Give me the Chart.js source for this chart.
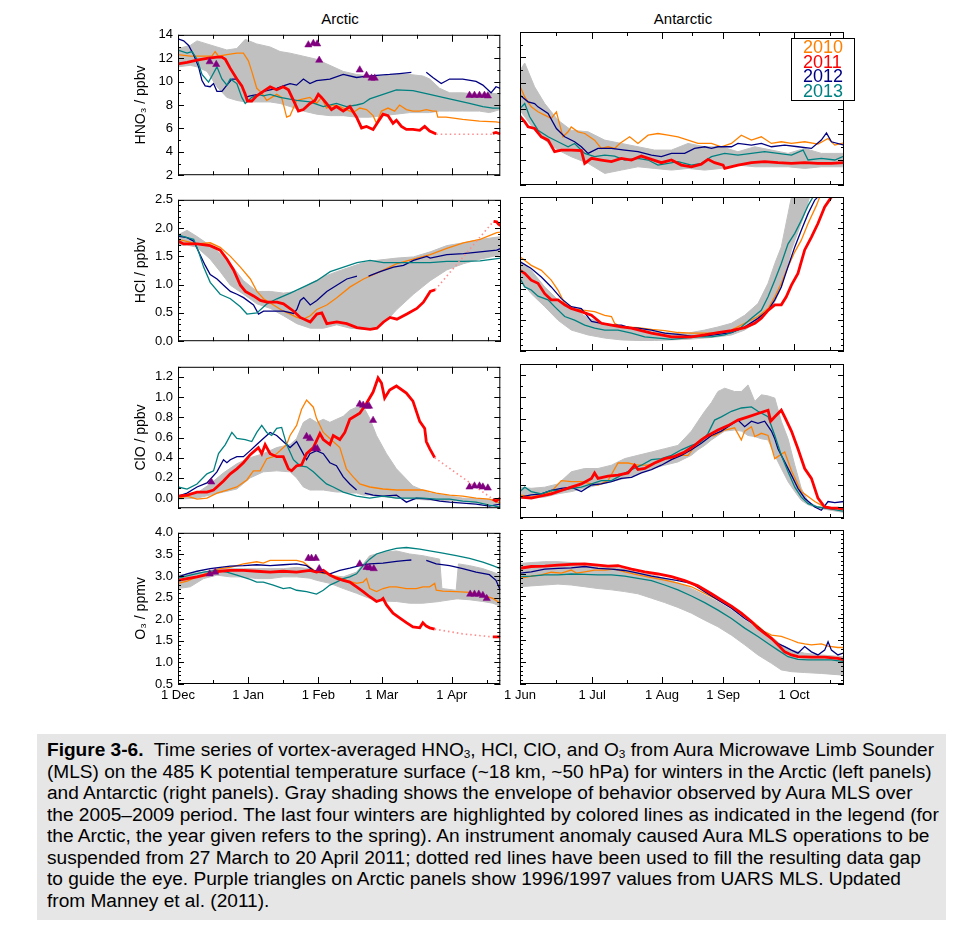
<!DOCTYPE html>
<html>
<head>
<meta charset="utf-8">
<title>Figure 3-6</title>
<script src="https://cdn.jsdelivr.net/npm/chart.js@4.4.1/dist/chart.umd.min.js"></script>
<style>
  body { margin: 0; background: #fff; width: 960px; height: 931px; position: relative; overflow: hidden;
         font-family: 'Liberation Sans', Arial, Helvetica, sans-serif; color: #000; }
  .panel { position: absolute; }
  .coltitle { position: absolute; top: 10px; font-size: 15px; line-height: 18px; transform: translateX(-50%); white-space: nowrap; }
  #legend { position: absolute; left: 791px; top: 38px; width: 64px; height: 63px; border: 1px solid #000; background: #fff;
            font-size: 18px; line-height: 14.5px; padding: 1px 0 0 11px; box-sizing: border-box; }
  #caption { position: absolute; left: 37px; top: 734px; width: 909px; height: 186px; background: #e6e6e6; }
  #capInner { position: absolute; left: 10px; top: 6px; transform-origin: 0 0;
              font-family: 'Liberation Sans', Arial, Helvetica, sans-serif;
              font-size: 18px; line-height: 21.5px; }
  .ln { white-space: nowrap; width: max-content; }
  sub { font-size: 0.62em; vertical-align: -0.2em; line-height: 0; }
</style>
</head>
<body>

<div class="coltitle" style="left:340px">Arctic</div>
<div class="coltitle" style="left:683px">Antarctic</div>

<canvas id="c1" class="panel"></canvas>
<canvas id="c2" class="panel"></canvas>
<canvas id="c3" class="panel"></canvas>
<canvas id="c4" class="panel"></canvas>
<canvas id="c5" class="panel"></canvas>
<canvas id="c6" class="panel"></canvas>
<canvas id="c7" class="panel"></canvas>
<canvas id="c8" class="panel"></canvas>

<div id="legend">
  <div style="color:#ff8000">2010</div>
  <div style="color:#ff0000">2011</div>
  <div style="color:#000080">2012</div>
  <div style="color:#008080">2013</div>
</div>

<div id="caption"><div id="capInner">
  <div class="ln"><b>Figure 3-6.</b>&nbsp; Time series of vortex-averaged HNO<sub>3</sub>, HCl, ClO, and O<sub>3</sub> from Aura Microwave Limb Sounder</div>
  <div class="ln">(MLS) on the 485 K potential temperature surface (~18 km, ~50 hPa) for winters in the Arctic (left panels)</div>
  <div class="ln">and Antarctic (right panels). Gray shading shows the envelope of behavior observed by Aura MLS over</div>
  <div class="ln">the 2005–2009 period. The last four winters are highlighted by colored lines as indicated in the legend (for</div>
  <div class="ln">the Arctic, the year given refers to the spring). An instrument anomaly caused Aura MLS operations to be</div>
  <div class="ln">suspended from 27 March to 20 April 2011; dotted red lines have been used to fill the resulting data gap</div>
  <div class="ln">to guide the eye. Purple triangles on Arctic panels show 1996/1997 values from UARS MLS. Updated</div>
  <div class="ln">from Manney et al. (2011).</div>
</div></div>

<script>
// x = days since 1 Dec (Arctic) or since 1 Jun (Antarctic), y = mixing ratio

// ---- Arctic HNO3 (ppbv) ----
const arcHNO3_envX = [0, 5.4, 8.4, 12.8, 17.2, 21.6, 26.0, 29.7, 34.8, 40.7, 45.1, 49.5, 55.4, 61.2, 67.1, 73.0, 78.9, 84.7, 90.6, 96.5, 102.3, 108.2, 111.2, 115.6, 120.0, 125.8, 133.2, 137.6, 142.4];
const arcHNO3_envHi = [12.83, 13.09, 13.48, 13.22, 12.96, 12.70, 12.83, 13.61, 13.22, 12.96, 12.57, 12.43, 12.17, 11.91, 11.39, 10.87, 10.61, 10.48, 10.48, 10.61, 10.61, 10.48, 10.22, 9.43, 9.04, 9.04, 8.91, 9.04, 8.91];
const arcHNO3_envLo = [11.26, 11.39, 11.26, 10.87, 9.56, 8.65, 8.39, 8.26, 8.26, 8.26, 8.13, 7.87, 7.48, 7.22, 7.09, 7.09, 6.96, 6.96, 7.09, 7.22, 7.35, 7.35, 7.35, 7.48, 7.48, 7.48, 7.48, 7.35, 7.61];
const arcHNO3_2010 = [[0,12.30],[5.4,12.17],[11.3,12.17],[15.0,12.17],[16.4,12.57],[17.9,12.17],[21.6,12.30],[26.0,12.43],[28.9,12.43],[31.1,11.78],[32.6,10.87],[34.8,9.43],[37.0,9.04],[39.2,8.39],[41.4,8.65],[43.6,8.91],[45.8,8.65],[48.0,6.96],[49.5,7.09],[52.4,8.39],[55.4,8.52],[58.3,8.65],[61.2,8.13],[63.4,8.65],[65.6,7.74],[68.6,8.00],[71.5,7.87],[74.4,7.61],[77.4,7.35],[80.3,7.74],[83.3,7.61],[86.2,7.09],[87.7,6.43],[89.9,7.48],[92.8,7.74],[95.7,7.48],[97.9,8.00],[100.9,7.61],[103.8,7.48],[106.8,7.48],[109.7,7.61],[112.6,7.48],[114.1,7.48],[114.8,6.96],[118.5,6.96],[125.8,6.77],[133.2,6.62],[140.5,6.56],[142.4,6.49]];
const arcHNO3_2011a = [[0,11.52],[4.0,11.65],[8.4,11.83],[12.8,11.99],[17.2,12.10],[19.4,12.10],[20.9,11.91],[23.1,11.13],[26.0,10.22],[28.2,9.64],[29.7,8.91],[30.7,8.34],[32.6,8.34],[34.8,8.78],[37.7,9.17],[40.7,9.56],[43.6,9.30],[46.5,9.56],[48.8,9.30],[51.0,8.39],[53.2,7.48],[55.4,7.61],[58.3,8.13],[60.5,8.39],[62.0,8.91],[63.4,8.65],[65.6,8.13],[67.8,7.61],[70.0,7.87],[73.0,7.48],[75.9,7.87],[78.9,6.96],[81.1,6.04],[83.3,6.17],[86.2,5.91],[88.4,6.56],[90.6,7.22],[92.8,7.09],[95.0,6.43],[96.5,6.70],[98.7,6.17],[100.9,5.91],[103.8,5.91],[106.8,5.83],[109.0,6.17],[111.2,5.78],[114.1,5.52]];
const arcHNO3_2011b = [[139.1,5.57],[140.5,5.65],[142.4,5.52]];
const arcHNO3_gap2011 = [[114.1,5.50],[139.1,5.50]];
const arcHNO3_2012a = [[0,13.66],[2.5,13.48],[4.7,13.09],[6.9,12.30],[9.1,11.26],[10.6,10.09],[12.0,9.64],[14.2,9.56],[15.7,9.83],[17.2,9.17],[19.4,9.17],[21.6,9.70],[23.8,10.22],[26.0,10.22],[27.5,9.83]];
const arcHNO3_2012b = [[29.7,8.65],[31.9,8.78],[35.5,8.91],[37.7,9.17],[40.7,9.30],[43.6,9.43],[46.5,9.64],[49.5,9.83],[52.4,9.70],[55.4,10.22],[58.3,9.83],[61.2,10.09],[67.1,10.22],[73.0,10.61],[78.9,10.35],[81.8,10.43],[87.7,10.53],[93.5,10.61],[97.9,10.69],[103.1,10.79]];
const arcHNO3_2012c = [[109.7,10.79],[112.6,10.35],[116.3,9.83],[120.0,10.22],[125.8,10.22],[131.7,10.01],[134.7,9.70],[138.3,9.04],[140.5,9.56],[142.4,9.43]];
const arcHNO3_2013 = [[0,12.70],[4.0,12.43],[6.2,12.57],[8.4,11.91],[10.6,10.61],[13.5,9.96],[15.0,10.48],[17.2,11.26],[19.4,10.22],[21.6,9.70],[23.1,10.22],[26.0,9.83],[28.2,8.65],[29.7,8.13],[32.6,8.65],[35.5,8.91],[37.7,8.78],[40.7,8.91],[45.1,8.65],[52.4,8.39],[58.3,8.26],[64.2,7.87],[70.0,8.13],[74.4,7.87],[78.9,8.00],[81.8,8.13],[84.7,8.52],[90.6,8.91],[96.5,9.30],[103.8,9.23],[111.2,8.91],[117.0,8.65],[122.9,8.39],[128.8,8.13],[134.7,7.87],[139.1,7.74],[142.4,7.74]];
const arcHNO3_uars = [[14.0,11.70],[16.9,11.47],[57.6,13.14],[59.8,13.27],[61.5,13.22],[62.4,11.83],[80.3,11.00],[83.3,10.53],[85.5,10.30],[86.9,10.30],[128.8,8.83],[131.0,8.83],[133.2,8.83],[135.4,8.83],[136.9,8.78]];

// ---- Antarctic HNO3 (ppbv) ----
const antHNO3_envX = [0, 2.1, 6.5, 11.0, 16.9, 22.8, 30.3, 37.7, 45.1, 52.5, 59.9, 67.4, 74.8, 82.2, 89.6, 97.0, 104.5, 111.9, 119.3, 126.7, 134.1, 144.2];
const antHNO3_envHi = [11.00, 11.57, 9.70, 8.39, 7.09, 6.30, 6.17, 5.52, 5.26, 5.00, 4.74, 4.74, 5.26, 5.00, 5.00, 4.61, 5.00, 4.74, 4.48, 4.87, 4.48, 4.48];
const antHNO3_envLo = [7.87, 7.35, 6.30, 5.52, 4.74, 4.22, 3.70, 2.91, 3.17, 3.43, 3.30, 3.17, 3.30, 3.17, 3.30, 3.56, 3.43, 3.43, 3.43, 3.30, 3.43, 3.43];
const antHNO3_2010 = [[0,9.75],[2.1,8.91],[5.0,8.13],[8.0,7.74],[11.0,7.48],[13.9,7.22],[16.2,7.74],[19.1,5.78],[21.4,6.17],[22.8,6.56],[25.8,6.17],[28.8,6.04],[33.2,5.52],[36.2,4.87],[39.2,5.00],[42.1,4.87],[44.4,5.26],[48.8,5.78],[52.5,5.26],[57.0,5.91],[61.4,6.04],[65.9,5.91],[70.3,5.78],[74.8,5.52],[79.2,5.26],[85.2,5.26],[89.6,5.00],[94.1,5.26],[98.5,5.91],[103.0,5.52],[107.4,5.78],[111.9,5.26],[116.3,5.39],[120.8,5.26],[126.7,5.39],[132.6,5.21],[137.1,5.65],[140.1,5.13],[144.2,5.31]];
const antHNO3_2011 = [[0,7.40],[2.1,6.96],[3.6,6.56],[6.5,6.43],[9.5,5.78],[12.5,5.52],[15.4,4.61],[18.4,4.74],[22.8,4.74],[27.3,4.69],[28.8,3.70],[31.8,4.09],[36.2,3.96],[40.7,3.83],[45.1,4.09],[49.6,3.96],[54.0,4.27],[58.5,4.01],[62.9,3.75],[67.4,3.96],[71.8,3.56],[76.3,3.43],[80.7,3.64],[83.7,4.01],[86.6,3.75],[90.4,3.56],[91.1,3.30],[97.0,3.56],[103.0,3.75],[108.9,3.83],[114.8,3.75],[120.8,3.70],[126.7,3.75],[132.6,3.70],[138.6,3.70],[144.2,3.75]];
const antHNO3_2012 = [[0,9.04],[3.6,8.52],[6.5,8.39],[8.0,8.13],[12.5,7.61],[16.2,6.43],[19.9,5.78],[24.3,5.39],[27.3,5.00],[30.3,4.48],[34.7,4.87],[40.7,4.87],[46.6,4.74],[52.5,4.61],[58.5,4.35],[62.9,4.22],[67.4,4.48],[73.3,4.48],[77.7,4.87],[82.2,5.00],[85.2,4.87],[88.1,5.00],[94.1,5.00],[97.0,5.26],[103.0,5.13],[107.4,5.26],[111.9,5.00],[117.8,5.13],[123.7,5.00],[129.7,4.87],[134.1,5.52],[136.4,6.09],[138.6,5.39],[144.2,5.13]];
const antHNO3_2013 = [[0,8.00],[2.1,8.39],[4.3,7.35],[8.0,6.30],[12.5,5.78],[16.9,5.39],[21.4,5.00],[24.3,5.26],[28.8,4.48],[33.2,4.22],[37.7,4.35],[42.1,4.27],[46.6,3.96],[52.5,4.09],[57.0,3.96],[61.4,3.56],[65.9,3.70],[70.3,3.83],[76.3,3.56],[80.7,3.70],[85.2,4.22],[91.1,4.48],[97.0,4.35],[103.0,4.48],[108.9,4.61],[114.8,4.48],[120.8,4.35],[126.0,4.74],[128.2,3.96],[134.1,4.09],[140.1,3.96],[144.2,4.27]];

// ---- Arctic HCl (ppbv) ----
const arcHCl_envX = [0, 4.0, 8.4, 14.2, 18.6, 23.1, 28.9, 34.8, 40.7, 46.5, 52.4, 58.3, 64.2, 70.0, 75.9, 81.8, 87.7, 92.1, 96.5, 103.8, 111.2, 118.5, 125.8, 133.2, 142.4];
const arcHCl_envHi = [1.88, 1.96, 1.85, 1.69, 1.55, 1.37, 1.07, 0.88, 0.88, 0.85, 0.88, 1.02, 1.14, 1.23, 1.31, 1.39, 1.43, 1.45, 1.47, 1.49, 1.58, 1.69, 1.74, 1.80, 1.85];
const arcHCl_envLo = [1.69, 1.70, 1.66, 1.45, 1.23, 0.99, 0.83, 0.66, 0.58, 0.45, 0.31, 0.23, 0.23, 0.29, 0.23, 0.21, 0.23, 0.37, 0.56, 0.83, 1.07, 1.26, 1.37, 1.45, 1.53];
const arcHCl_2010 = [[0,1.80],[8.4,1.72],[14.2,1.74],[18.6,1.66],[23.1,1.50],[27.5,1.31],[31.9,1.10],[34.8,0.88],[37.7,0.75],[42.1,0.64],[46.5,0.53],[49.5,0.48],[52.4,0.42],[55.4,0.39],[58.3,0.45],[61.2,0.56],[65.6,0.64],[70.0,0.77],[75.9,0.96],[81.8,1.10],[89.1,1.23],[96.5,1.37],[103.8,1.45],[111.2,1.53],[118.5,1.64],[125.8,1.74],[133.2,1.80],[140.5,1.92],[142.4,1.93]];
const arcHCl_2011a = [[0,1.77],[2.5,1.72],[8.4,1.72],[14.2,1.69],[16.4,1.65],[18.6,1.61],[21.6,1.45],[24.5,1.26],[27.5,0.99],[29.7,0.88],[33.3,0.80],[36.3,0.72],[39.2,0.69],[43.6,0.69],[46.5,0.66],[51.0,0.53],[53.9,0.42],[58.3,0.34],[61.2,0.48],[63.4,0.50],[65.6,0.31],[70.0,0.34],[74.4,0.31],[78.9,0.24],[84.7,0.21],[87.7,0.23],[90.6,0.34],[93.5,0.42],[96.5,0.39],[100.9,0.48],[105.3,0.58],[108.2,0.69],[111.2,0.88],[113.4,0.91]];
const arcHCl_2011b = [[139.1,2.12],[140.5,2.11],[141.3,2.07],[142.4,2.04]];
const arcHCl_gap2011 = [[113.4,0.91],[139.1,2.12]];
const arcHCl_2012a = [[0,1.86],[4.0,1.83],[6.9,1.77],[9.1,1.58],[12.0,1.34],[14.2,1.18],[17.2,1.10],[20.1,0.99],[23.1,0.88],[26.0,0.83],[28.9,0.77],[33.3,0.64],[35.5,0.48],[37.7,0.53],[42.1,0.53],[46.5,0.53],[51.0,0.49],[52.4,0.56],[53.9,0.72],[55.4,0.77],[58.3,0.64],[61.2,0.72],[65.6,0.88],[70.0,0.99],[74.4,1.10],[78.9,1.15]];
const arcHCl_2012b = [[84.0,1.15],[89.1,1.23],[95.0,1.31],[99.4,1.34],[103.8,1.43],[109.7,1.50],[111.2,1.47],[118.5,1.53],[125.8,1.55],[133.2,1.58],[140.5,1.61],[142.4,1.64]];
const arcHCl_2013 = [[0,1.88],[4.0,1.83],[6.9,1.80],[9.1,1.58],[11.3,1.31],[14.2,1.04],[18.6,0.83],[23.1,0.75],[27.5,0.61],[30.4,0.48],[34.8,0.50],[39.2,0.66],[43.6,0.75],[49.5,0.85],[55.4,0.96],[61.2,1.07],[67.1,1.23],[73.0,1.31],[78.9,1.39],[84.7,1.43],[90.6,1.39],[96.5,1.39],[103.8,1.39],[111.2,1.39],[118.5,1.41],[125.8,1.41],[133.2,1.42],[142.4,1.47]];

// ---- Antarctic HCl (ppbv) ----
const antHCl_envX = [0, 5.0, 11.0, 16.9, 22.8, 30.3, 37.7, 45.1, 52.5, 59.9, 67.4, 74.8, 82.2, 88.1, 94.1, 100.0, 105.9, 110.4, 113.4, 116.3, 119.3, 120.8, 126.7, 128.9, 134.1, 144.2];
const antHCl_envHi = [1.45, 1.31, 1.04, 0.83, 0.72, 0.53, 0.45, 0.39, 0.37, 0.31, 0.29, 0.29, 0.34, 0.39, 0.45, 0.58, 0.77, 1.10, 1.42, 1.69, 2.23, 2.50, 2.70, 2.70, 2.70, 2.70];
const antHCl_envLo = [1.15, 0.93, 0.72, 0.50, 0.34, 0.26, 0.21, 0.18, 0.17, 0.17, 0.18, 0.19, 0.21, 0.23, 0.26, 0.34, 0.48, 0.64, 0.80, 1.04, 1.42, 1.64, 2.23, 2.50, 2.70, 2.70];
const antHCl_2010 = [[0,1.53],[5.0,1.39],[9.5,1.31],[13.9,1.15],[16.9,0.99],[19.9,0.77],[22.8,0.69],[28.8,0.66],[33.2,0.64],[37.7,0.58],[40.7,0.56],[42.1,0.45],[45.1,0.39],[52.5,0.38],[58.5,0.35],[64.4,0.33],[70.3,0.30],[76.3,0.29],[82.2,0.29],[88.1,0.29],[94.1,0.34],[100.0,0.45],[105.9,0.56],[110.4,0.69],[113.4,0.88],[116.3,1.10],[119.3,1.37],[122.3,1.61],[125.2,1.80],[128.2,2.07],[131.9,2.36],[133.4,2.50],[135.0,2.62]];
const antHCl_2011 = [[0,1.31],[2.1,1.26],[5.0,1.15],[8.0,1.10],[11.0,0.93],[13.9,0.83],[16.9,0.83],[19.9,0.75],[22.8,0.69],[27.3,0.64],[31.8,0.58],[36.2,0.45],[40.7,0.42],[45.1,0.39],[49.6,0.37],[54.0,0.33],[58.5,0.29],[62.9,0.26],[67.4,0.23],[71.8,0.23],[76.3,0.23],[82.2,0.26],[88.1,0.30],[94.1,0.33],[100.0,0.38],[104.5,0.45],[107.4,0.53],[110.4,0.66],[113.4,0.75],[116.3,0.75],[118.5,0.88],[120.8,1.07],[123.7,1.26],[126.7,1.64],[129.7,1.85],[132.6,2.07],[135.6,2.34],[138.6,2.50],[140.1,2.62]];
const antHCl_2012 = [[0,1.45],[5.0,1.34],[9.5,1.20],[13.9,1.04],[18.4,0.85],[22.8,0.72],[27.3,0.69],[31.8,0.48],[36.2,0.45],[40.7,0.42],[45.1,0.42],[48.8,0.38],[52.5,0.37],[58.5,0.34],[64.4,0.29],[70.3,0.27],[76.3,0.24],[82.2,0.24],[88.1,0.27],[94.1,0.30],[100.0,0.39],[105.9,0.53],[110.4,0.66],[113.4,0.83],[116.3,1.04],[119.3,1.37],[122.3,1.69],[125.2,1.96],[128.2,2.23],[131.2,2.45],[132.6,2.50],[134.0,2.62]];
const antHCl_2013 = [[0,1.18],[2.1,1.04],[5.0,0.99],[8.0,0.89],[12.5,0.83],[15.4,0.72],[19.9,0.56],[24.3,0.50],[28.8,0.42],[33.2,0.37],[37.7,0.34],[43.6,0.34],[49.6,0.29],[55.5,0.23],[61.4,0.21],[67.4,0.19],[73.3,0.21],[79.2,0.23],[85.2,0.23],[91.1,0.26],[97.0,0.34],[103.0,0.53],[107.4,0.66],[110.4,0.88],[113.4,1.15],[116.3,1.42],[119.3,1.74],[122.3,1.91],[125.2,2.12],[128.2,2.36],[130.4,2.50],[132.0,2.62]];

// ---- Arctic ClO (ppbv) ----
const arcClO_envX = [0, 8.4, 14.2, 20.1, 26.0, 31.9, 37.7, 43.6, 49.5, 52.4, 55.4, 58.3, 61.2, 64.2, 67.1, 70.0, 73.0, 75.9, 78.9, 81.8, 84.7, 87.7, 92.1, 96.5, 103.8, 111.2, 125.8, 142.4];
const arcClO_envHi = [0.02, 0.05, 0.14, 0.25, 0.34, 0.40, 0.44, 0.50, 0.53, 0.59, 0.75, 0.79, 0.75, 0.78, 0.75, 0.78, 0.81, 0.87, 0.90, 0.91, 0.79, 0.62, 0.44, 0.29, 0.12, 0.05, 0.00, -0.02];
const arcClO_envLo = [-0.01, 0.00, 0.03, 0.06, 0.09, 0.20, 0.26, 0.27, 0.26, 0.20, 0.11, 0.08, 0.08, 0.08, 0.07, 0.06, 0.06, 0.05, 0.05, 0.03, 0.03, 0.02, 0.01, 0.00, -0.01, -0.02, -0.03, -0.07];
const arcClO_2010 = [[0,0.00],[4.0,0.02],[8.4,-0.01],[12.8,0.00],[17.2,0.05],[21.6,0.08],[26.0,0.11],[30.4,0.18],[33.3,0.27],[36.3,0.27],[39.2,0.39],[42.1,0.41],[45.1,0.47],[48.0,0.53],[49.5,0.62],[52.4,0.72],[54.6,0.88],[56.8,0.97],[59.8,0.90],[61.2,0.79],[64.2,0.65],[67.1,0.59],[71.5,0.50],[74.4,0.29],[77.4,0.21],[80.3,0.14],[84.7,0.11],[90.6,0.09],[96.5,0.08],[102.3,0.08],[108.2,0.08],[114.1,0.05],[120.0,0.03],[125.8,0.02],[131.7,0.00],[137.6,-0.01],[142.4,-0.05]];
const arcClO_2011a = [[0,0.02],[4.0,0.03],[8.4,0.06],[12.8,0.06],[15.7,0.08],[17.2,0.11],[20.1,0.17],[23.1,0.24],[26.0,0.29],[28.9,0.35],[31.9,0.43],[35.5,0.50],[37.0,0.44],[38.5,0.53],[40.7,0.44],[43.6,0.41],[46.5,0.41],[48.8,0.29],[50.2,0.27],[52.4,0.32],[54.6,0.33],[56.8,0.44],[59.8,0.50],[62.7,0.64],[64.2,0.58],[67.1,0.53],[68.6,0.62],[71.5,0.58],[73.7,0.65],[75.9,0.78],[80.3,0.84],[83.3,0.94],[86.2,1.05],[88.4,1.19],[89.9,1.14],[91.3,0.99],[93.5,1.07],[96.5,1.11],[100.9,1.04],[103.8,0.96],[106.8,0.76],[109.0,0.69],[109.7,0.56],[111.2,0.49],[113.4,0.40]];
const arcClO_2011b = [[139.1,-0.01],[140.5,-0.03],[142.4,0.00]];
const arcClO_gap2011 = [[113.4,0.40],[139.1,-0.01]];
const arcClO_2012a = [[0,0.02],[4.0,0.05],[8.4,0.11],[12.8,0.15],[17.2,0.26],[20.1,0.38],[21.6,0.35],[23.1,0.38],[26.0,0.41],[28.9,0.41],[31.9,0.47],[34.8,0.53],[37.7,0.59],[40.7,0.65],[43.6,0.62],[46.5,0.56],[49.5,0.50],[52.4,0.56],[54.6,0.47],[56.8,0.38],[58.3,0.44],[61.2,0.47],[64.2,0.44],[67.1,0.35],[70.0,0.32],[73.0,0.21],[75.9,0.14],[78.9,0.08]];
const arcClO_2012b = [[82.5,0.05],[86.2,0.03],[90.6,0.02],[96.5,0.03],[100.9,-0.04],[105.3,0.00],[111.2,-0.01],[115.6,-0.03],[120.0,-0.04],[125.8,-0.05],[131.7,-0.06],[137.6,-0.08],[142.4,-0.06]];
const arcClO_2013 = [[0,0.11],[4.0,0.09],[8.4,0.14],[12.8,0.24],[15.7,0.27],[17.9,0.44],[20.9,0.53],[23.8,0.65],[26.0,0.59],[29.7,0.58],[32.6,0.56],[34.8,0.65],[37.0,0.72],[39.2,0.65],[41.4,0.62],[43.6,0.69],[45.8,0.70],[48.0,0.53],[51.0,0.38],[53.9,0.32],[56.8,0.31],[59.8,0.26],[62.7,0.20],[65.6,0.14],[68.6,0.11],[73.0,0.06],[78.9,0.02],[84.7,0.00],[90.6,0.02],[96.5,0.00],[102.3,0.00],[108.2,0.00],[114.1,-0.01],[120.0,-0.01],[125.8,-0.03],[131.7,-0.04],[137.6,-0.07],[142.4,-0.09]];
const arcClO_uars = [[14.7,0.16],[56.8,0.61],[58.3,0.59],[60.5,0.49],[61.5,0.49],[80.3,0.93],[81.8,0.92],[83.6,0.91],[84.4,0.91],[86.2,0.77],[128.8,0.11],[131.0,0.12],[133.2,0.12],[134.7,0.11],[136.9,0.10]];

// ---- Antarctic ClO (ppbv) ----
const antClO_envX = [0, 5.0, 11.0, 16.9, 22.8, 28.8, 34.7, 40.7, 46.6, 52.5, 58.5, 64.4, 70.3, 76.3, 79.2, 82.2, 85.2, 88.1, 91.1, 95.5, 98.5, 101.5, 104.5, 107.4, 110.4, 113.4, 116.3, 119.3, 122.3, 125.2, 128.2, 132.6, 144.2];
const antClO_envHi = [0.18, 0.17, 0.18, 0.21, 0.32, 0.35, 0.35, 0.38, 0.44, 0.47, 0.50, 0.53, 0.56, 0.69, 0.78, 0.87, 0.95, 1.05, 1.08, 1.05, 1.05, 1.11, 0.96, 1.02, 1.01, 0.99, 0.78, 0.62, 0.38, 0.17, 0.05, 0.00, -0.01];
const antClO_envLo = [0.08, 0.08, 0.09, 0.12, 0.14, 0.17, 0.20, 0.23, 0.26, 0.30, 0.35, 0.38, 0.41, 0.47, 0.52, 0.56, 0.61, 0.65, 0.69, 0.70, 0.69, 0.65, 0.64, 0.62, 0.61, 0.47, 0.35, 0.23, 0.14, 0.06, 0.02, -0.01, -0.05];
const antClO_2010 = [[0,0.11],[5.0,0.09],[9.5,0.11],[13.9,0.14],[18.4,0.24],[22.8,0.23],[27.3,0.23],[31.8,0.21],[34.7,0.20],[39.2,0.24],[43.6,0.40],[48.1,0.40],[52.5,0.38],[57.0,0.38],[61.4,0.41],[64.4,0.44],[67.4,0.44],[70.3,0.47],[74.8,0.47],[79.2,0.59],[82.2,0.64],[86.6,0.65],[91.1,0.70],[95.5,0.72],[98.5,0.61],[100.0,0.69],[103.0,0.73],[104.5,0.64],[107.4,0.67],[110.4,0.65],[113.4,0.44],[117.8,0.50],[120.8,0.33],[125.2,0.14],[131.2,0.05],[135.6,0.00],[144.2,-0.02]];
const antClO_2011 = [[0,0.09],[5.0,0.08],[9.5,0.10],[13.9,0.12],[18.4,0.15],[22.8,0.18],[27.3,0.21],[31.8,0.26],[33.2,0.31],[34.7,0.26],[39.2,0.28],[43.6,0.29],[48.1,0.31],[51.0,0.38],[52.5,0.34],[55.5,0.35],[59.9,0.40],[64.4,0.44],[68.8,0.46],[73.3,0.50],[77.7,0.56],[80.7,0.61],[83.7,0.65],[88.1,0.70],[92.6,0.74],[97.0,0.79],[101.5,0.82],[105.9,0.85],[110.4,0.88],[111.6,0.78],[113.4,0.82],[116.3,0.88],[117.8,0.82],[120.8,0.69],[123.7,0.53],[126.7,0.35],[129.7,0.26],[132.6,0.08],[135.6,0.00],[138.6,-0.01],[141.5,-0.01],[144.2,-0.02]];
const antClO_2012 = [[0,0.09],[5.0,0.11],[9.5,0.12],[13.9,0.15],[18.4,0.17],[22.8,0.18],[27.3,0.14],[31.8,0.20],[36.2,0.21],[40.7,0.23],[45.1,0.26],[49.6,0.27],[54.0,0.31],[58.5,0.34],[62.9,0.38],[67.4,0.43],[71.8,0.47],[76.3,0.52],[80.7,0.58],[85.2,0.65],[89.6,0.69],[94.1,0.75],[97.0,0.79],[100.0,0.73],[103.0,0.78],[105.9,0.76],[108.9,0.78],[111.9,0.69],[113.4,0.62],[114.8,0.53],[117.8,0.41],[120.8,0.29],[123.7,0.17],[126.7,0.08],[131.2,0.00],[134.1,-0.03],[137.1,0.05],[140.1,0.04],[144.2,0.05]];
const antClO_2013 = [[0,0.14],[2.1,0.18],[5.0,0.14],[9.5,0.12],[13.9,0.15],[18.4,0.15],[22.8,0.17],[27.3,0.18],[31.8,0.21],[36.2,0.24],[40.7,0.24],[45.1,0.29],[49.6,0.34],[54.0,0.38],[58.5,0.43],[62.9,0.44],[67.4,0.47],[71.8,0.52],[76.3,0.56],[80.7,0.59],[83.7,0.67],[86.6,0.79],[89.6,0.82],[94.1,0.87],[98.5,0.90],[103.0,0.91],[105.9,0.87],[110.4,0.82],[113.4,0.65],[116.3,0.47],[119.3,0.32],[122.3,0.18],[125.2,0.09],[128.2,0.03],[132.6,0.00],[138.6,-0.02],[144.2,-0.04]];

// ---- Arctic O3 (ppmv) ----
const arcO3_envX = [0, 5.4, 11.3, 17.2, 23.1, 28.9, 34.8, 40.7, 46.5, 52.4, 58.3, 61.2, 67.1, 73.0, 78.9, 84.7, 90.6, 96.5, 102.3, 108.2, 115.6, 116.6, 122.9, 123.9, 128.8, 134.7, 139.1, 142.4];
const arcO3_envHi = [3.02, 3.05, 3.09, 3.17, 3.17, 3.17, 3.17, 3.17, 3.17, 3.20, 3.17, 3.09, 3.02, 2.98, 3.09, 3.47, 3.55, 3.58, 3.51, 3.47, 3.39, 2.71, 2.67, 3.28, 3.24, 3.17, 3.09, 3.02];
const arcO3_envLo = [2.71, 2.75, 2.94, 3.02, 2.98, 2.98, 2.94, 2.94, 2.98, 2.98, 2.95, 2.90, 2.83, 2.71, 2.60, 2.48, 2.42, 2.41, 2.37, 2.37, 2.41, 2.42, 2.47, 2.47, 2.45, 2.41, 2.37, 2.30];
const arcO3_2010 = [[0,2.83],[4.0,2.88],[8.4,2.98],[14.2,3.09],[18.6,3.17],[23.1,3.20],[28.9,3.28],[34.8,3.33],[37.7,3.30],[40.7,3.36],[46.5,3.36],[52.4,3.36],[55.4,3.32],[58.3,3.20],[61.2,3.09],[65.6,3.05],[70.0,2.98],[74.4,2.90],[78.9,2.83],[81.8,2.86],[83.3,2.94],[84.7,2.71],[87.7,2.64],[90.6,2.71],[93.5,2.75],[96.5,2.75],[100.9,2.71],[105.3,2.71],[108.2,2.75],[111.2,2.75],[113.4,2.83],[114.1,2.67],[117.0,2.65],[122.9,2.64],[128.8,2.62],[134.7,2.55],[139.1,2.48],[142.4,2.37]];
const arcO3_2011a = [[0,2.90],[4.0,2.94],[8.4,2.98],[14.2,3.05],[18.6,3.11],[23.1,3.13],[28.9,3.13],[34.8,3.11],[40.7,3.09],[46.5,3.11],[52.4,3.09],[58.3,3.13],[61.2,3.09],[64.2,3.13],[67.1,3.02],[70.0,2.95],[73.0,2.90],[75.9,2.86],[78.9,2.75],[81.8,2.64],[84.7,2.52],[87.7,2.41],[89.9,2.45],[90.6,2.48],[92.1,2.33],[95.0,2.14],[97.9,2.03],[100.9,1.92],[103.8,1.82],[106.8,1.80],[108.2,1.92],[109.7,1.84],[111.2,1.80],[113.4,1.77]];
const arcO3_2011b = [[139.1,1.59],[142.4,1.59]];
const arcO3_gap2011 = [[113.4,1.77],[125.8,1.66],[139.1,1.59]];
const arcO3_2012a = [[0,2.98],[4.0,3.05],[8.4,3.11],[14.2,3.17],[18.6,3.20],[23.1,3.23],[28.9,3.24],[34.8,3.26],[40.7,3.24],[46.5,3.26],[52.4,3.28],[56.8,3.24],[59.8,3.13],[62.7,3.09],[67.1,3.05],[71.5,3.13],[75.9,3.18],[80.3,3.24],[84.7,3.28],[90.6,3.30],[96.5,3.34],[100.9,3.36],[103.1,3.37]];
const arcO3_2012b = [[109.7,3.36],[114.1,3.28],[120.0,3.24],[125.8,3.17],[131.7,3.09],[137.6,3.03],[140.5,2.90],[142.4,2.67]];
const arcO3_2013 = [[0,2.95],[5.4,3.02],[11.3,3.09],[17.2,3.13],[21.6,3.09],[26.0,3.02],[31.9,2.92],[34.8,2.86],[37.7,2.86],[42.1,2.79],[46.5,2.71],[49.5,2.73],[52.4,2.67],[56.8,2.64],[61.2,2.58],[64.2,2.67],[67.1,2.79],[70.0,2.86],[73.0,2.94],[75.9,2.98],[78.9,3.05],[81.8,3.24],[84.7,3.39],[87.7,3.51],[92.1,3.58],[96.5,3.64],[100.9,3.66],[106.8,3.62],[111.2,3.58],[117.0,3.53],[122.9,3.47],[128.8,3.41],[134.7,3.32],[139.1,3.24],[142.4,3.17]];
const arcO3_uars = [[14.0,3.05],[16.4,3.09],[57.6,3.41],[59.0,3.41],[60.9,3.41],[62.4,3.17],[80.3,3.28],[83.3,3.20],[84.7,3.19],[86.5,3.17],[129.1,2.58],[131.0,2.58],[132.9,2.58],[134.7,2.55],[136.4,2.48]];

// ---- Antarctic O3 (ppmv) ----
const antO3_envX = [0, 5.0, 11.0, 16.9, 22.8, 28.8, 34.7, 40.7, 46.6, 52.5, 58.5, 64.4, 70.3, 76.3, 82.2, 88.1, 94.1, 100.0, 105.9, 111.9, 116.3, 120.8, 126.7, 134.1, 144.2];
const antO3_envHi = [3.24, 3.26, 3.28, 3.28, 3.26, 3.24, 3.20, 3.17, 3.11, 3.03, 2.98, 2.90, 2.79, 2.67, 2.52, 2.37, 2.18, 1.95, 1.77, 1.58, 1.39, 1.27, 1.20, 1.16, 1.12];
const antO3_envLo = [2.71, 2.73, 2.75, 2.77, 2.75, 2.71, 2.67, 2.64, 2.60, 2.55, 2.45, 2.35, 2.24, 2.11, 1.95, 1.80, 1.61, 1.39, 1.16, 0.97, 0.82, 0.78, 0.76, 0.74, 0.70];
const antO3_2010 = [[0,2.90],[5.0,2.95],[9.5,2.98],[13.9,3.04],[18.4,3.02],[22.8,3.09],[25.1,3.02],[28.8,3.05],[33.2,3.09],[37.7,3.09],[42.1,3.11],[46.6,3.05],[52.5,2.98],[58.5,2.92],[64.4,2.86],[70.3,2.79],[76.3,2.71],[82.2,2.56],[88.1,2.41],[94.1,2.24],[100.0,2.03],[104.5,1.88],[108.9,1.69],[111.9,1.61],[116.3,1.58],[120.8,1.50],[123.7,1.44],[126.7,1.41],[129.7,1.39],[134.1,1.41],[137.1,1.36],[141.5,1.33],[144.2,1.33]];
const antO3_2011 = [[0,3.13],[5.0,3.17],[11.0,3.18],[16.9,3.20],[22.8,3.22],[28.8,3.23],[34.7,3.20],[39.2,3.18],[43.6,3.19],[45.1,3.17],[49.6,3.11],[55.5,3.05],[61.4,3.00],[67.4,2.94],[73.3,2.85],[79.2,2.73],[85.2,2.55],[89.6,2.41],[94.1,2.27],[98.5,2.11],[103.0,1.92],[105.9,1.77],[108.9,1.65],[111.9,1.54],[114.8,1.39],[117.8,1.23],[120.8,1.16],[123.7,1.12],[129.7,1.11],[135.6,1.11],[141.5,1.08],[144.2,1.05]];
const antO3_2012 = [[0,3.02],[5.0,3.05],[11.0,3.11],[16.9,3.13],[22.8,3.14],[28.8,3.17],[34.7,3.13],[40.7,3.11],[46.6,3.08],[52.5,3.02],[58.5,2.95],[64.4,2.90],[70.3,2.85],[76.3,2.79],[82.2,2.60],[88.1,2.41],[94.1,2.22],[100.0,1.99],[105.9,1.80],[110.4,1.61],[111.9,1.52],[114.8,1.42],[117.8,1.35],[120.8,1.27],[123.7,1.20],[126.7,1.35],[129.7,1.23],[132.6,1.16],[135.6,1.27],[137.1,1.46],[138.6,1.27],[141.5,1.16],[144.2,1.21]];
const antO3_2013 = [[0,2.94],[5.0,2.95],[11.0,2.98],[16.9,2.98],[22.8,3.00],[28.8,2.99],[34.7,2.98],[40.7,2.98],[46.6,2.95],[52.5,2.90],[58.5,2.85],[64.4,2.75],[70.3,2.64],[76.3,2.50],[82.2,2.35],[88.1,2.18],[94.1,1.99],[100.0,1.77],[105.9,1.58],[110.4,1.42],[114.8,1.27],[119.3,1.12],[123.7,1.06],[128.2,1.05],[132.6,1.05],[138.6,1.05],[144.2,1.01]];

// ---- axis ticks ----
const arcTickDays = [0, 31, 62, 90, 121];
const arcTickLabels = ['1 Dec', '1 Jan', '1 Feb', '1 Mar', '1 Apr'];
const arcMidDays = [15.5, 46.5, 76, 105.5, 136.5];
const antTickDays = [0, 32.1, 63.2, 90.4, 122.0];
const antTickLabels = ['1 Jun', '1 Jul', '1 Aug', '1 Sep', '1 Oct'];
const antMidDays = [16.2, 47.6, 76.7, 106.3, 137.9];

const C2010 = '#ff8000', C2011 = '#ff0000', C2012 = '#000080', C2013 = '#008080';
const GRAY = '#c0c0c0', UARS = '#800080', GAPRED = '#ff8c8c';

Chart.defaults.font.family = "'Liberation Sans', Arial, Helvetica, sans-serif";
Chart.defaults.color = '#000';

function steps(a, b, s) {
  const r = [];
  for (let v = a; v <= b + 1e-9; v += s) r.push(Math.round(v * 100) / 100);
  return r;
}

const yAxes = {
  HNO3: { min: 2, max: 14, major: steps(2, 14, 2), minor: steps(3, 13, 2), fmt: v => String(v), title: 'HNO₃ / ppbv' },
  HCl: { min: 0, max: 2.5, major: steps(0, 2.5, 0.5), minor: steps(0, 2.5, 0.1), fmt: v => v.toFixed(1), title: 'HCl / ppbv' },
  ClO: { min: -0.1, max: 1.3, major: steps(0, 1.2, 0.2), minor: steps(-0.1, 1.3, 0.1), fmt: v => v.toFixed(1), title: 'ClO / ppbv' },
  O3: { min: 0.5, max: 4.0, major: steps(0.5, 4.0, 0.5), minor: steps(0.5, 4.0, 0.1), fmt: v => v.toFixed(1), title: 'O₃ / ppmv' }
};

const cols = {
  arc: { left: 178, w: 323, padL: 50, max: 142.4, major: arcTickDays, labels: arcTickLabels, mid: arcMidDays },
  ant: { left: 520, w: 324, padL: 22, max: 144.2, major: antTickDays, labels: antTickLabels, mid: antMidDays }
};
const rows = [{ top: 32, h: 153 }, { top: 197, h: 154 }, { top: 364, h: 154 }, { top: 530, h: 154 }];
const PAD_T = 10, PAD_R = 4, PAD_B = 3, XLAB_H = 24;

// frame with inward ticks on all four sides, IDL style
const framePlugin = {
  id: 'frame',
  afterDatasetsDraw(chart, args, opts) {
    const { ctx, chartArea: a, scales: { x, y } } = chart;
    ctx.save();
    ctx.strokeStyle = '#000';
    ctx.lineWidth = 1;
    ctx.beginPath();
    const xTick = (v, len) => {
      const px = Math.round(x.getPixelForValue(v)) + 0.5;
      ctx.moveTo(px, a.bottom); ctx.lineTo(px, a.bottom - len);
      ctx.moveTo(px, a.top); ctx.lineTo(px, a.top + len);
    };
    opts.xMajor.forEach(v => xTick(v, 7));
    opts.xMinor.forEach(v => xTick(v, 4));
    const yTick = (v, len) => {
      const py = Math.round(y.getPixelForValue(v)) + 0.5;
      ctx.moveTo(a.left, py); ctx.lineTo(a.left + len, py);
      ctx.moveTo(a.right, py); ctx.lineTo(a.right - len, py);
    };
    opts.yMinor.forEach(v => yTick(v, 3));
    opts.yMajor.forEach(v => yTick(v, 6));
    ctx.stroke();
    ctx.strokeRect(a.left + 0.5, a.top + 0.5, a.width - 1, a.height - 1);
    ctx.restore();
  }
};

const pts = arr => arr.map(([x, y]) => ({ x, y }));

function lineSet(arr, color, width, order, extra) {
  return Object.assign({ data: pts(arr), borderColor: color, borderWidth: width, pointRadius: 0,
    fill: false, tension: 0, order }, extra || {});
}

function makePanel(id, colKey, rowIdx, yKey, d) {
  const col = cols[colKey], row = rows[rowIdx], ya = yAxes[yKey];
  const showY = colKey === 'arc', showX = rowIdx === 3;
  const bottomH = showX ? XLAB_H : PAD_B;
  const cv = document.getElementById(id);
  cv.width = col.padL + col.w + PAD_R;
  cv.height = PAD_T + row.h + bottomH;
  cv.style.left = (col.left - col.padL) + 'px';
  cv.style.top = (row.top - PAD_T) + 'px';

  const datasets = [];
  datasets.push({ data: d.envX.map((x, i) => ({ x, y: d.envLo[i] })), borderColor: GRAY, borderWidth: 1,
    backgroundColor: GRAY, fill: false, pointRadius: 0, tension: 0, order: 10 });
  datasets.push({ data: d.envX.map((x, i) => ({ x, y: d.envHi[i] })), borderColor: GRAY, borderWidth: 1,
    backgroundColor: GRAY, fill: '-1', pointRadius: 0, tension: 0, order: 10 });
  d.y2010.forEach(s => datasets.push(lineSet(s, C2010, 1.3, 5)));
  d.y2012.forEach(s => datasets.push(lineSet(s, C2012, 1.3, 4)));
  d.y2013.forEach(s => datasets.push(lineSet(s, C2013, 1.3, 3)));
  if (d.gap) datasets.push(lineSet(d.gap, GAPRED, 1.6, 2, { borderDash: [1.5, 3] }));
  d.y2011.forEach(s => datasets.push(lineSet(s, C2011, 2.8, 2)));
  if (d.uars) datasets.push({ data: pts(d.uars), showLine: false, pointStyle: 'triangle', pointRadius: 4.2,
    pointBackgroundColor: UARS, pointBorderColor: UARS, pointBorderWidth: 0.5, order: 1 });

  const labelOf = new Map(col.major.map((v, i) => [v, col.labels[i]]));

  new Chart(cv, {
    type: 'line',
    data: { datasets },
    plugins: [framePlugin],
    options: {
      responsive: false,
      animation: false,
      devicePixelRatio: 1,
      layout: { padding: { top: PAD_T, right: PAD_R, bottom: showX ? 0 : PAD_B, left: showY ? 0 : col.padL } },
      plugins: {
        legend: { display: false },
        tooltip: { enabled: false },
        frame: { xMajor: col.major, xMinor: col.mid, yMajor: ya.major, yMinor: ya.minor }
      },
      scales: {
        x: {
          type: 'linear', min: 0, max: col.max,
          grid: { display: false, drawTicks: false }, border: { display: false },
          ticks: { display: showX, autoSkip: false, maxRotation: 0, padding: 4, font: { size: 13 },
            callback: v => labelOf.get(v) || '' },
          afterBuildTicks: s => { s.ticks = col.major.map(v => ({ value: v })); },
          afterFit: s => { s.height = showX ? XLAB_H : 0; }
        },
        y: {
          type: 'linear', min: ya.min, max: ya.max,
          grid: { display: false, drawTicks: false }, border: { display: false },
          ticks: { display: showY, autoSkip: false, padding: 5, font: { size: 13 }, callback: v => ya.fmt(v) },
          title: { display: showY, text: ya.title, font: { size: 14 }, padding: { top: 5, bottom: 0 } },
          afterBuildTicks: s => { s.ticks = ya.major.map(v => ({ value: v })); },
          afterFit: s => { s.width = showY ? col.padL : 0; }
        }
      }
    }
  });
}

makePanel('c1', 'arc', 0, 'HNO3', { envX: arcHNO3_envX, envLo: arcHNO3_envLo, envHi: arcHNO3_envHi,
  y2010: [arcHNO3_2010], y2011: [arcHNO3_2011a, arcHNO3_2011b], y2012: [arcHNO3_2012a, arcHNO3_2012b, arcHNO3_2012c],
  y2013: [arcHNO3_2013], gap: arcHNO3_gap2011, uars: arcHNO3_uars });
makePanel('c2', 'ant', 0, 'HNO3', { envX: antHNO3_envX, envLo: antHNO3_envLo, envHi: antHNO3_envHi,
  y2010: [antHNO3_2010], y2011: [antHNO3_2011], y2012: [antHNO3_2012], y2013: [antHNO3_2013] });
makePanel('c3', 'arc', 1, 'HCl', { envX: arcHCl_envX, envLo: arcHCl_envLo, envHi: arcHCl_envHi,
  y2010: [arcHCl_2010], y2011: [arcHCl_2011a, arcHCl_2011b], y2012: [arcHCl_2012a, arcHCl_2012b],
  y2013: [arcHCl_2013], gap: arcHCl_gap2011 });
makePanel('c4', 'ant', 1, 'HCl', { envX: antHCl_envX, envLo: antHCl_envLo, envHi: antHCl_envHi,
  y2010: [antHCl_2010], y2011: [antHCl_2011], y2012: [antHCl_2012], y2013: [antHCl_2013] });
makePanel('c5', 'arc', 2, 'ClO', { envX: arcClO_envX, envLo: arcClO_envLo, envHi: arcClO_envHi,
  y2010: [arcClO_2010], y2011: [arcClO_2011a, arcClO_2011b], y2012: [arcClO_2012a, arcClO_2012b],
  y2013: [arcClO_2013], gap: arcClO_gap2011, uars: arcClO_uars });
makePanel('c6', 'ant', 2, 'ClO', { envX: antClO_envX, envLo: antClO_envLo, envHi: antClO_envHi,
  y2010: [antClO_2010], y2011: [antClO_2011], y2012: [antClO_2012], y2013: [antClO_2013] });
makePanel('c7', 'arc', 3, 'O3', { envX: arcO3_envX, envLo: arcO3_envLo, envHi: arcO3_envHi,
  y2010: [arcO3_2010], y2011: [arcO3_2011a, arcO3_2011b], y2012: [arcO3_2012a, arcO3_2012b],
  y2013: [arcO3_2013], gap: arcO3_gap2011, uars: arcO3_uars });
makePanel('c8', 'ant', 3, 'O3', { envX: antO3_envX, envLo: antO3_envLo, envHi: antO3_envHi,
  y2010: [antO3_2010], y2011: [antO3_2011], y2012: [antO3_2012], y2013: [antO3_2013] });

// stretch/squeeze the caption so the first line spans the box like the printed figure
const capInner = document.getElementById('capInner');
const firstLine = capInner.querySelector('.ln');
const w1 = firstLine.getBoundingClientRect().width;
if (w1 > 0) capInner.style.transform = 'scaleX(' + (887 / w1).toFixed(4) + ')';
</script>
</body>
</html>
